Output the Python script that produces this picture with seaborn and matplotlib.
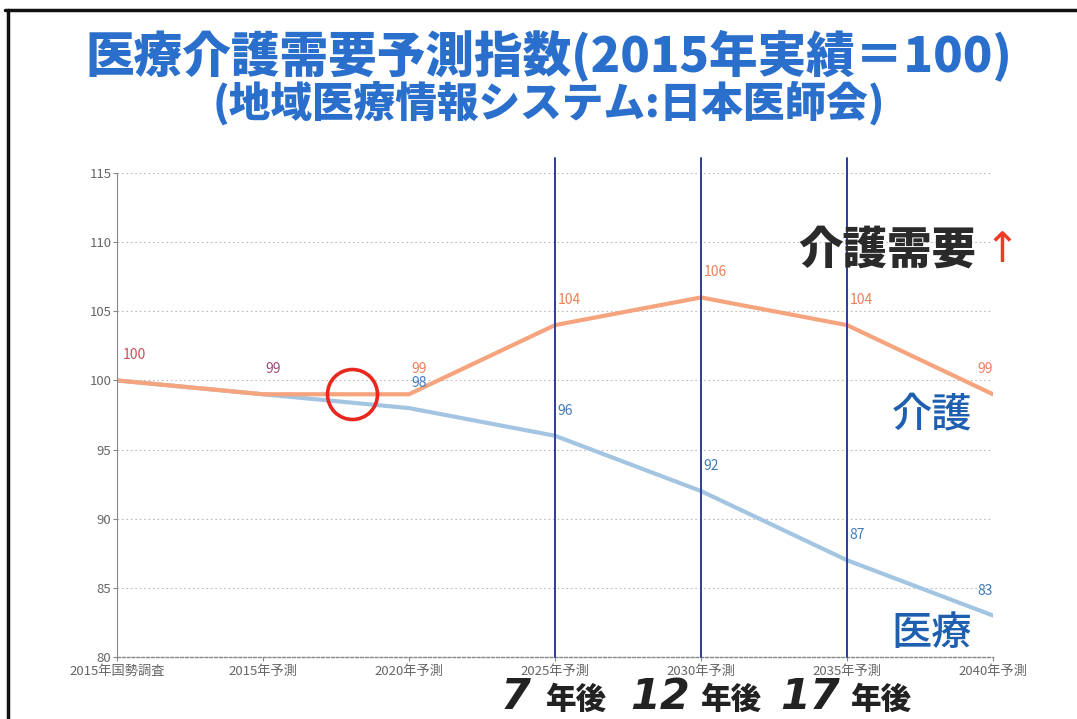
import matplotlib
matplotlib.use('Agg')
import matplotlib.pyplot as plt
from matplotlib.lines import Line2D
import numpy as np
import pandas as pd
import seaborn as sns

# chart data
categories = ["2015年国勢調査", "2015年予測", "2020年予測", "2025年予測",
              "2030年予測", "2035年予測", "2040年予測"]
kaigo = [100, 99, 99, 104, 106, 104, 99]   # 介護
iryo = [100, 99, 98, 96, 92, 87, 83]       # 医療
y_ticks = [80, 85, 90, 95, 100, 105, 110, 115]
marked_years = [3, 4, 5]                    # 2025 / 2030 / 2035
years_after = ["7", "12", "17"]

ORANGE = "#F5A47E"
BLUE = "#A3C5E2"
ORANGE_TXT = "#EE7E5C"
BLUE_TXT = "#3F7CB8"
NAVY = "#2E3C96"

sns.set_theme(style="white")
plt.rcParams['font.family'] = ['Noto Sans CJK JP', 'DejaVu Sans']

df = pd.DataFrame({
    "x": list(range(len(categories))) * 2,
    "value": kaigo + iryo,
    "series": ["介護"] * len(categories) + ["医療"] * len(categories),
})

fig = plt.figure(figsize=(10.77, 7.19), dpi=100)
ax = fig.add_axes([0.1086, 0.0862, 0.8134, 0.6732])

sns.lineplot(data=df, x="x", y="value", hue="series",
             palette={"介護": ORANGE, "医療": BLUE}, hue_order=["医療", "介護"],
             linewidth=3, legend=False, ax=ax)

ax.set_xlim(0, len(categories) - 1)
ax.set_ylim(80, 115)
ax.set_xticks(range(len(categories)))
ax.set_xticklabels(categories, fontsize=9.5, color="#666666")
ax.set_yticks(y_ticks)
ax.set_yticklabels([str(t) for t in y_ticks], fontsize=9.5, color="#666666")
ax.set_xlabel("")
ax.set_ylabel("")
ax.tick_params(axis='both', length=3, width=0.8, color="#888888", direction='out')
ax.tick_params(axis='x', bottom=True, pad=3)
ax.tick_params(axis='y', left=True, pad=1)

for t in y_ticks[1:]:
    ax.axhline(t, color="#BBBBBB", lw=0.8, ls=(0, (1.5, 2.5)), zorder=0)
for s in ["top", "right"]:
    ax.spines[s].set_visible(False)
ax.spines["left"].set_color("#888888")
ax.spines["left"].set_linewidth(0.8)
ax.spines["bottom"].set_color("#888888")
ax.spines["bottom"].set_linewidth(1.0)
ax.spines["bottom"].set_linestyle((0, (2, 1.5)))

# value labels
last = len(categories) - 1
for i, (a, b) in enumerate(zip(kaigo, iryo)):
    ha = 'right' if i == last else 'left'
    dx = 0 if i == last else 2
    if a == b:
        col = "#C9505A" if i == 0 else "#A0487A"
        ax.annotate(str(a), (i, a), xytext=(dx + 2 if i == 0 else dx, 18),
                    textcoords='offset points', ha=ha, va='center',
                    fontsize=10, color=col)
        continue
    ax.annotate(str(a), (i, a), xytext=(dx, 18), textcoords='offset points',
                ha=ha, va='center', fontsize=10, color=ORANGE_TXT)
    ax.annotate(str(b), (i, b), xytext=(dx, 18), textcoords='offset points',
                ha=ha, va='center', fontsize=10, color=BLUE_TXT)

# vertical markers for future years
for xi in marked_years:
    ax.plot([xi, xi], [80, 116.1], color=NAVY, lw=1.4, clip_on=False, zorder=3)

# crossover highlight
ax.plot([1.61], [kaigo[1] + 0.05], marker='o', markersize=36, markerfacecolor='none',
        markeredgecolor="#E8281E", markeredgewidth=2.6, clip_on=False, zorder=4)

# series names
fig.text(972 / 1077, 1 - 415 / 719, "介護", ha='right', va='center',
         fontsize=29, color="#1F5FAF", fontweight='medium')
fig.text(972 / 1077, 1 - 633 / 719, "医療", ha='right', va='center',
         fontsize=29, color="#1F5FAF", fontweight='medium')

# 介護需要 ↑
fig.text(976 / 1077, 1 - 250 / 719, "介護需要", ha='right', va='center', fontsize=32,
         color="#2A2A2A", fontweight='black')
fig.text(984 / 1077, 1 - 250 / 719, "↑", ha='left', va='center', fontsize=30,
         color="#F03A26", family=['DejaVu Sans'])

# years-after labels under the axis
digit_x = [531, 690, 840]
word_x = [545, 700, 850]
for d, dxp, wxp in zip(years_after, digit_x, word_x):
    fig.text(dxp / 1077, 1 - 697 / 719, d, ha='right', va='center', fontsize=31,
             color="#222222", fontweight='black', fontstyle='italic',
             family=['DejaVu Sans'])
    fig.text(wxp / 1077, 1 - 699 / 719, "年後", ha='left', va='center', fontsize=22,
             color="#222222", fontweight='black')

# title
fig.text(0.51, 1 - 55 / 719, "医療介護需要予測指数(2015年実績＝100)", ha='center',
         va='center', fontsize=35, color="#2A6FCB", fontweight='black')
fig.text(0.51, 1 - 103 / 719, "(地域医療情報システム:日本医師会)", ha='center',
         va='center', fontsize=30, color="#2A6FCB", fontweight='black')

# page frame (top and left)
fig.add_artist(Line2D([5 / 1077, 1.0], [1 - 10 / 719, 1 - 10 / 719],
                      transform=fig.transFigure, color="#111111", lw=2.5))
fig.add_artist(Line2D([8 / 1077, 8 / 1077], [0.0, 1 - 10 / 719],
                      transform=fig.transFigure, color="#111111", lw=2.5))

fig.savefig("out.png", dpi=100, facecolor="white")
